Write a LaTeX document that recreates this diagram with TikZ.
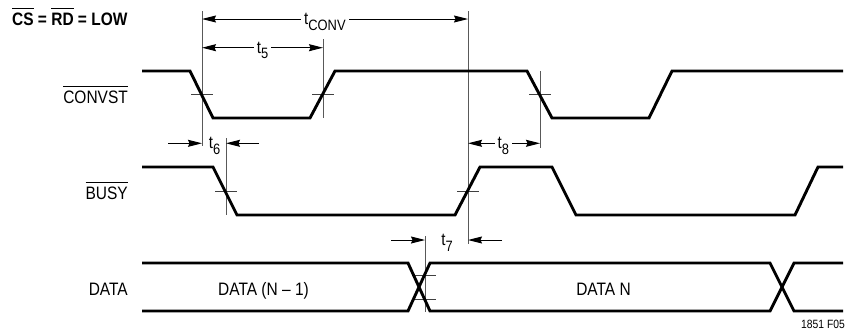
\documentclass[tikz,border=0pt]{standalone}
\usepackage{fontspec}
\setmainfont{Liberation Sans}[FakeStretch=0.86]
\usetikzlibrary{arrows.meta}
\newcommand\ovl[2][1pt]{\vbox{\hrule height #1\kern 3.5pt\hbox{#2}}}
\newcommand\tsub[1]{t\raisebox{-5.5pt}{\fontsize{15}{16}\selectfont #1}}
\begin{document}
\begin{tikzpicture}[x=1pt,y=-1pt,
  sig/.style={line width=2.9pt, line join=miter},
  guide/.style={line width=0.8pt, draw=black!65},
  tickm/.style={line width=0.8pt, draw=black!75},
  arrtip/.tip={Stealth[length=14pt,width=7pt,inset=1.5pt]},
  dimone/.style={line width=1pt, -arrtip},
  dimboth/.style={line width=1pt, arrtip-arrtip},
  lab/.style={font=\fontsize{18}{20}\selectfont, inner sep=0pt},
  tlab/.style={font=\fontsize{17.5}{18}\selectfont, fill=white, inner xsep=3pt, inner ysep=0pt, anchor=base, yshift=-5.5pt},
]
\useasboundingbox (0,0) rectangle (847,333);

% ---------- labels ----------
\node[lab, anchor=base west, font=\bfseries\fontsize{18}{20}\selectfont] (cond) at (12,25)
  {\ovl[1.4pt]{CS} = \ovl[1.4pt]{RD} = LOW};
\node[lab, anchor=base east] (lconv) at (128,103) {\ovl{CONVST}};
\node[lab, anchor=base east] (lbusy) at (128,199) {\ovl{BUSY}};
\node[lab, anchor=base east] (ldata) at (128,295) {DATA};
\node[lab, anchor=base] (dprev) at (263.5,295) {DATA (N \textendash\ 1)};
\node[lab, anchor=base] (dnext) at (603.5,295) {DATA N};
\node[font=\fontsize{12}{14}\selectfont, inner sep=0pt, anchor=base east] (fig) at (845,328) {1851 F05};

% ---------- guide lines ----------
\coordinate (v1t) at (202,11);  \coordinate (v1b) at (202,146);
\coordinate (v2t) at (323,39);  \coordinate (v2b) at (323,118);
\coordinate (v3t) at (468,11);  \coordinate (v3b) at (468,244);
\coordinate (v4t) at (540,71);  \coordinate (v4b) at (540,148);
\coordinate (v5t) at (226,138); \coordinate (v5b) at (226,215);
\coordinate (v6t) at (425,236); \coordinate (v6b) at (425,312);
\draw[guide] (v1t) -- (v1b);
\draw[guide] (v2t) -- (v2b);
\draw[guide] (v3t) -- (v3b);
\draw[guide] (v4t) -- (v4b);
\draw[guide] (v5t) -- (v5b);
\draw[guide] (v6t) -- (v6b);

% ---------- crossing ticks ----------
\draw[tickm] (191,94.5) -- (213,94.5);
\draw[tickm] (312,94.5) -- (334,94.5);
\draw[tickm] (529,94.5) -- (551,94.5);
\draw[tickm] (215,191) -- (237,191);
\draw[tickm] (457,191) -- (479,191);
\draw[tickm] (414,275) -- (436,275);
\draw[tickm] (414,299) -- (436,299);

% ---------- signals ----------
\draw[sig] (142,71) -- (190,71) -- (213,118) -- (310,118) -- (335,71) -- (527,71)
  -- (552,118) -- (649,118) -- (672,71) -- (843,71);
\draw[sig] (142,167) -- (213,167) -- (237,215) -- (455,215) -- (480,167) -- (552,167)
  -- (576,215) -- (795,215) -- (818,167) -- (843,167);
\draw[sig] (142,263) -- (408,263) -- (430,311) -- (770,311) -- (794,263) -- (843,263);
\draw[sig] (142,311) -- (408,311) -- (430,263) -- (770,263) -- (794,311) -- (843,311);

% ---------- timing dimensions ----------
\coordinate (tcA) at (202,19);    \coordinate (tcB) at (468,19);
\draw[dimboth] (tcA) -- node[tlab, pos=0.462] (tconv) {\tsub{CONV}} (tcB);

\coordinate (t5A) at (202,47.7);  \coordinate (t5B) at (323,47.7);
\draw[dimboth] (t5A) -- node[tlab, pos=0.5] (tfive) {\tsub{5}} (t5B);

\coordinate (t8A) at (468,143.3); \coordinate (t8B) at (540,143.3);
\draw[dimboth] (t8A) -- node[tlab, pos=0.49] (teight) {\tsub{8}} (t8B);

\coordinate (t6L) at (168,143.3); \coordinate (t6Li) at (202,143.3);
\coordinate (t6R) at (259,143.3); \coordinate (t6Ri) at (226,143.3);
\draw[dimone] (t6L) -- (t6Li);
\draw[dimone] (t6R) -- (t6Ri);
\node[tlab, fill=none] (tsix) at (214.5,143.3) {\tsub{6}};

\coordinate (t7L) at (391,240); \coordinate (t7Li) at (425,240);
\coordinate (t7R) at (502,240); \coordinate (t7Ri) at (468,240);
\draw[dimone] (t7L) -- (t7Li);
\draw[dimone] (t7R) -- (t7Ri);
\node[tlab, fill=none] (tseven) at (447,240) {\tsub{7}};
\end{tikzpicture}
\end{document}
